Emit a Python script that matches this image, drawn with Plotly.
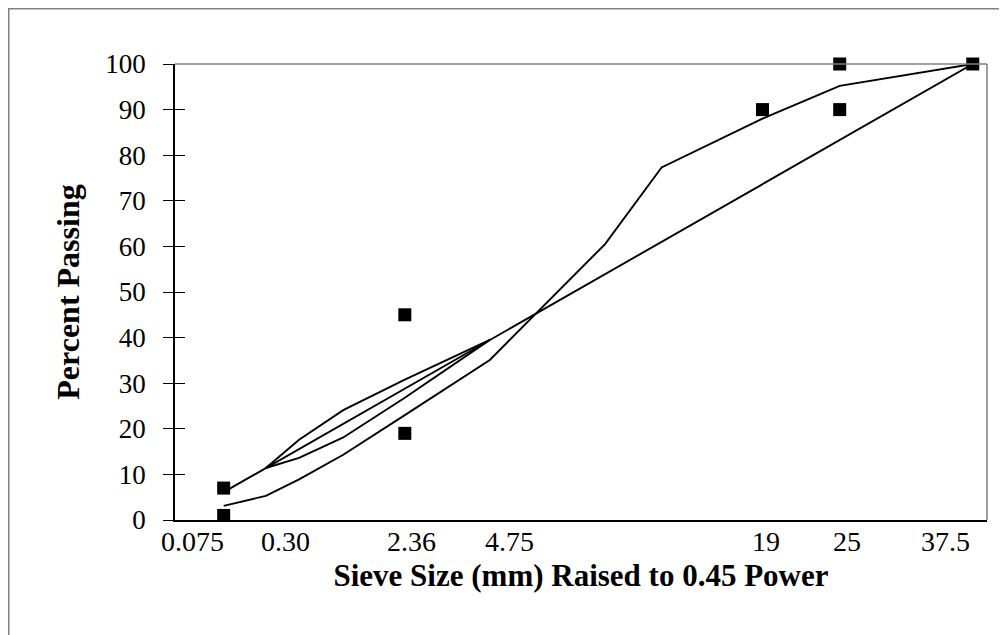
import numpy as np
import plotly.graph_objects as go

# ---- data ----
sieve_sizes = [0.075, 0.3, 0.6, 1.18, 2.36, 4.75, 9.5, 12.5, 19, 25, 37.5]
gradation = [3.1, 5.3, 8.9, 14.3, 23.0, 35.1, 60.5, 77.3, 88.0, 95.2, 100]

max_density_sieves = [0.075, 37.5]
max_density = [6.1, 100]

rz_sieves = [0.3, 0.6, 1.18, 2.36, 4.75]
rz_upper = [11.4, 17.6, 24.1, 30.8, 39.5]
rz_lower = [11.4, 13.6, 18.1, 26.8, 39.5]

cp_sieves = [0.075, 0.075, 2.36, 2.36, 19, 25, 25, 37.5]
cp_values = [1, 7, 19, 45, 90, 90, 100, 100]

tick_sieves = [0.075, 0.3, 2.36, 4.75, 19, 25, 37.5]
tick_labels = ["0.075", "0.30", "2.36", "4.75", "19", "25", "37.5"]

POWER = 0.45


def px(s):
    return np.power(np.array(s, dtype=float), POWER)


FONT = "Liberation Serif"
line_style = dict(color="black", width=1.9)

# plot area in figure pixels (page body adds an 8px offset)
L, T, R, B = 167, 56, 28, 123
PW, PH = 1007 - L - R, 635 - T - B

fig = go.Figure()
fig.add_trace(go.Scatter(x=px(max_density_sieves), y=max_density, mode="lines",
                         line=line_style, showlegend=False, hoverinfo="skip"))
fig.add_trace(go.Scatter(x=px(rz_sieves), y=rz_upper, mode="lines",
                         line=line_style, showlegend=False))
fig.add_trace(go.Scatter(x=px(rz_sieves), y=rz_lower, mode="lines",
                         line=line_style, showlegend=False))
fig.add_trace(go.Scatter(x=px(sieve_sizes), y=gradation, mode="lines",
                         line=line_style, showlegend=False))
fig.add_trace(go.Scatter(x=px(cp_sieves), y=cp_values, mode="markers",
                         marker=dict(symbol="square", size=13, color="black"),
                         cliponaxis=False, showlegend=False))
# invisible trace on the overlay axis so the inside ticks render
fig.add_trace(go.Scatter(x=[0], y=[0], yaxis="y2", mode="markers",
                         marker=dict(opacity=0), showlegend=False, hoverinfo="skip"))

# x tick labels, nudged as in the original chart to avoid overlap
label_nudge = [-31, 20, 7, 20, 4, 7, -27]
for s, t, dx in zip(tick_sieves, tick_labels, label_nudge):
    fig.add_annotation(x=float(px([s])[0]), y=0, xref="x", yref="y", text=t,
                       showarrow=False, yanchor="top", xanchor="center",
                       xshift=dx, yshift=-4,
                       font=dict(family=FONT, size=28, color="black"))

fig.update_layout(
    width=1007, height=635,
    margin=dict(l=L, r=R, t=T, b=B),
    paper_bgcolor="white", plot_bgcolor="white",
    font=dict(family=FONT, color="black"),
    xaxis=dict(range=[0, 5.2], showgrid=False, zeroline=False,
               showline=True, linecolor="black", linewidth=1.5,
               ticks="", showticklabels=False,
               title=dict(text="Sieve Size (mm) Raised to 0.45 Power",
                          font=dict(family=FONT, size=31, weight="bold"),
                          standoff=44)),
    yaxis=dict(range=[0, 100], dtick=10, showgrid=False, zeroline=False,
               showline=True, linecolor="black", linewidth=1.5,
               ticks="outside", ticklen=10, tickcolor="black", tickwidth=1.2,
               tickfont=dict(family=FONT, size=27),
               ticklabelstandoff=12,
               title=dict(text="Percent Passing",
                          font=dict(family=FONT, size=32, weight="bold"),
                          standoff=16)),
    yaxis2=dict(range=[0, 100], dtick=10, overlaying="y", side="left",
                showgrid=False, zeroline=False, showline=False,
                ticks="inside", ticklen=10, tickcolor="black", tickwidth=1.2,
                showticklabels=False),
    shapes=[
        dict(type="line", xref="paper", yref="paper", x0=0, x1=1, y0=1, y1=1,
             line=dict(color="#808080", width=1.5)),
        dict(type="line", xref="paper", yref="paper", x0=1, x1=1, y0=0, y1=1,
             line=dict(color="#808080", width=1.5)),
        dict(type="rect", xref="paper", yref="paper",
             x0=(0.75 - L) / PW, x1=(1020 - L) / PW,
             y0=(T + PH - 650) / PH, y1=(T + PH - 0.75) / PH,
             line=dict(color="#808080", width=1.5)),
    ],
)

fig.write_html("out.html")
